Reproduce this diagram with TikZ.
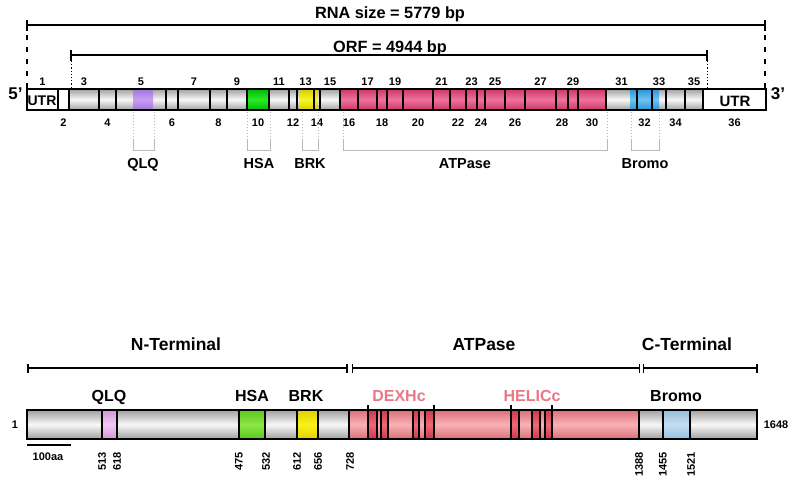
\documentclass[tikz,border=0pt]{standalone}
\usepackage{fontspec}
\setmainfont{Liberation Sans}
\definecolor{gtop}{RGB}{160,160,160}
\definecolor{gmid}{RGB}{248,248,248}
\definecolor{pinkT}{RGB}{205,55,105}
\definecolor{pinkM}{RGB}{238,115,155}
\definecolor{purpT}{RGB}{165,115,220}
\definecolor{purpM}{RGB}{200,160,240}
\definecolor{grnT}{RGB}{0,185,0}
\definecolor{grnM}{RGB}{40,235,40}
\definecolor{yelT}{RGB}{215,205,0}
\definecolor{yelM}{RGB}{250,245,40}
\definecolor{bluT}{RGB}{40,150,215}
\definecolor{bluM}{RGB}{110,195,240}
\definecolor{salT}{RGB}{220,110,120}
\definecolor{salM}{RGB}{247,178,182}
\definecolor{salD}{RGB}{205,55,75}
\definecolor{salDM}{RGB}{238,105,115}
\definecolor{lilT}{RGB}{210,150,215}
\definecolor{lilM}{RGB}{240,200,245}
\definecolor{lgrnT}{RGB}{90,200,30}
\definecolor{lgrnM}{RGB}{140,230,70}
\definecolor{lyelT}{RGB}{225,210,0}
\definecolor{lyelM}{RGB}{250,240,30}
\definecolor{lbluT}{RGB}{150,190,220}
\definecolor{lbluM}{RGB}{195,222,240}
\definecolor{domtxt}{RGB}{232,120,135}
\definecolor{brkgray}{RGB}{185,185,185}
\begin{document}
\begin{tikzpicture}[x=1pt,y=-1pt,
  big/.style={font=\bfseries\fontsize{16.3}{18}\selectfont, inner sep=0pt, anchor=base},
  head/.style={font=\bfseries\fontsize{17.5}{19}\selectfont, inner sep=0pt, anchor=base},
  exnum/.style={font=\bfseries\fontsize{11}{12}\selectfont, inner sep=0pt, anchor=base},
  dom/.style={font=\bfseries\fontsize{14.5}{16}\selectfont, inner sep=0pt, anchor=base},
  bdom/.style={font=\bfseries\fontsize{16}{18}\selectfont, inner sep=0pt, anchor=base},
  small/.style={font=\bfseries\fontsize{11}{12}\selectfont, inner sep=0pt},
  rot/.style={font=\bfseries\fontsize{11}{12}\selectfont, inner sep=0pt, rotate=90, anchor=east},
  dim/.style={line width=1.6pt},
  sep/.style={line width=1.2pt},
  brk/.style={brkgray, line width=1pt},
  brkdot/.style={brkgray, line width=1pt, dash pattern=on 1pt off 2pt}
]
\useasboundingbox (0,0) rectangle (800,483);

% ---------- dimension lines ----------
\node[big] (rna) at (390,18) {RNA size = 5779 bp};
\draw[dim] (27,25) -- (765,25);
\draw[dim] (27,20) -- (27,31);
\draw[dim] (765,20) -- (765,31);
\draw[line width=1.8pt, dash pattern=on 5pt off 7pt] (27,35) -- (27,89);
\draw[line width=1.8pt, dash pattern=on 5pt off 7pt] (765,35) -- (765,89);

\node[big] (orf) at (390,52) {ORF = 4944 bp};
\draw[dim] (71,55) -- (707,55);
\draw[dim] (71,50) -- (71,61);
\draw[dim] (707,50) -- (707,61);
\draw[line width=1pt, dash pattern=on 1.2pt off 2pt] (71,61) -- (71,89);
\draw[line width=1pt, dash pattern=on 1.2pt off 2pt] (707,61) -- (707,89);

% ---------- transcript bar ----------
\fill[white] (27,89) rectangle (69,110);
\fill[white] (703,89) rectangle (766,110);
\shade[top color=gtop, bottom color=gtop, middle color=gmid] (69,89) rectangle (340,110);
\shade[top color=gtop, bottom color=gtop, middle color=gmid] (606,89) rectangle (703,110);
\shade[top color=pinkT, bottom color=pinkT, middle color=pinkM] (340,89) rectangle (606,110);
\shade[top color=purpT, bottom color=purpT, middle color=purpM] (133,89) rectangle (153,110);
\shade[top color=grnT, bottom color=grnT, middle color=grnM] (247,89) rectangle (269,110);
\shade[top color=yelT, bottom color=yelT, middle color=yelM] (299,89) rectangle (318,110);
\shade[top color=bluT, bottom color=bluT, middle color=bluM] (630,89) rectangle (659,110);
\foreach \x in {58,69,99,116,166,178,210,227,247,269,289,297,314,320,340,358,377,387,403,433,450,466,477,485,505,525,556,568,578,606,637,652,666,685,703}
  \draw[sep] (\x,89) -- (\x,110);
\draw[line width=1.6pt] (27,89) rectangle (766,110);

\node[font=\bfseries\fontsize{17}{19}\selectfont, inner sep=0pt, anchor=base] (p5) at (15.5,99.5) {5’};
\node[font=\bfseries\fontsize{17}{19}\selectfont, inner sep=0pt, anchor=base] (p3) at (778,99.5) {3’};
\node[font=\bfseries\fontsize{14}{16}\selectfont, inner sep=0pt, anchor=base] (utrL) at (42,105) {UTR};
\node[font=\bfseries\fontsize{15}{17}\selectfont, inner sep=0pt, anchor=base] (utrR) at (735,106) {UTR};

% exon numbers
\foreach \i/\a/\b in {1/27/58,3/69/99,5/116/166,7/178/210,9/227/247,11/269/289,13/297/314,15/320/340,17/358/377,19/387/403,21/433/450,23/466/477,25/485/505,27/525/556,29/568/578,31/606/637,33/652/666,35/685/703}
  \node[exnum] (ex\i) at ({(\a+\b)/2},85) {\i};
\foreach \i/\a/\b in {2/58/69,4/99/116,6/166/178,8/210/227,10/247/269,12/289/297,14/314/320,16/340/358,18/377/387,20/403/433,22/450/466,24/477/485,26/505/525,28/556/568,30/578/606,32/637/652,34/666/685,36/703/766}
  \node[exnum] (ex\i) at ({(\a+\b)/2},126) {\i};

% domain brackets
\foreach \a/\b in {133/154,247/270,302/318,343/607,631/659}{
  \draw[brkdot] (\a,112) -- (\a,140);
  \draw[brkdot] (\b,112) -- (\b,140);
  \draw[brk] (\a,140) -- (\a,150) -- (\b,150) -- (\b,140);
}
\node[dom] (tqlq) at (143,168.5) {QLQ};
\node[dom] (thsa) at (259,168.5) {HSA};
\node[dom] (tbrk) at (310,168.5) {BRK};
\node[dom] (tatp) at (465,168.5) {ATPase};
\node[dom] (tbro) at (645,168.5) {Bromo};

% ---------- protein ----------
\node[head] (nterm) at (176,350) {N-Terminal};
\node[head] (atpase) at (484,350) {ATPase};
\node[head] (cterm) at (687,350) {C-Terminal};
\draw[dim] (28,368) -- (347,368);
\draw[dim] (28,364) -- (28,372.5);
\draw[dim] (347,364) -- (347,372.5);
\draw[dim] (352.5,368) -- (639.5,368);
\draw[dim] (352.5,364) -- (352.5,372.5);
\draw[dim] (639.5,364) -- (639.5,372.5);
\draw[dim] (643.5,368) -- (757,368);
\draw[dim] (643.5,364) -- (643.5,372.5);
\draw[dim] (757,364) -- (757,372.5);

\shade[top color=gtop, bottom color=gtop, middle color=gmid] (27,410) rectangle (349,439);
\shade[top color=gtop, bottom color=gtop, middle color=gmid] (639,410) rectangle (757,439);
\shade[top color=salT, bottom color=salT, middle color=salM] (349,410) rectangle (639,439);
\foreach \a/\b in {368/377,381/388,413/419,425/434,511/519,532/540,545/552}
  \shade[top color=salD, bottom color=salD, middle color=salDM] (\a,410) rectangle (\b,439);
\shade[top color=lilT, bottom color=lilT, middle color=lilM] (102,410) rectangle (117,439);
\shade[top color=lgrnT, bottom color=lgrnT, middle color=lgrnM] (239,410) rectangle (265,439);
\shade[top color=lyelT, bottom color=lyelT, middle color=lyelM] (297,410) rectangle (318,439);
\shade[top color=lbluT, bottom color=lbluT, middle color=lbluM] (663,410) rectangle (690,439);
\foreach \x in {102,117,239,265,297,318,349,377,381,388,413,419,425,519,532,540,545,639,663,690}
  \draw[sep] (\x,410) -- (\x,439);
\foreach \x in {368,434,511,552}
  \draw[sep] (\x,405) -- (\x,439);
\draw[line width=1.8pt] (27,410) rectangle (757,439);

\node[bdom] (bqlq) at (109,401.5) {QLQ};
\node[bdom] (bhsa) at (252,401.5) {HSA};
\node[bdom] (bbrk) at (306,401.5) {BRK};
\node[bdom, text=domtxt] (dexh) at (399,401.5) {DEXHc};
\node[bdom, text=domtxt] (helic) at (532,401.5) {HELICc};
\node[bdom] (bbro) at (676,401.5) {Bromo};

\node[small] (one) at (15,425) {1};
\node[small] (end) at (776,425) {1648};
\draw[line width=2pt] (27,445) -- (71,445);
\node[small, anchor=base] (scale) at (48,460) {100aa};

\foreach \x/\t in {102/513,117/618,239/475,266/532,297/612,318/656,350/728,639/1388,663/1455,691/1521}
  \node[rot] (r\t) at (\x,452) {\t};
\end{tikzpicture}
\end{document}
